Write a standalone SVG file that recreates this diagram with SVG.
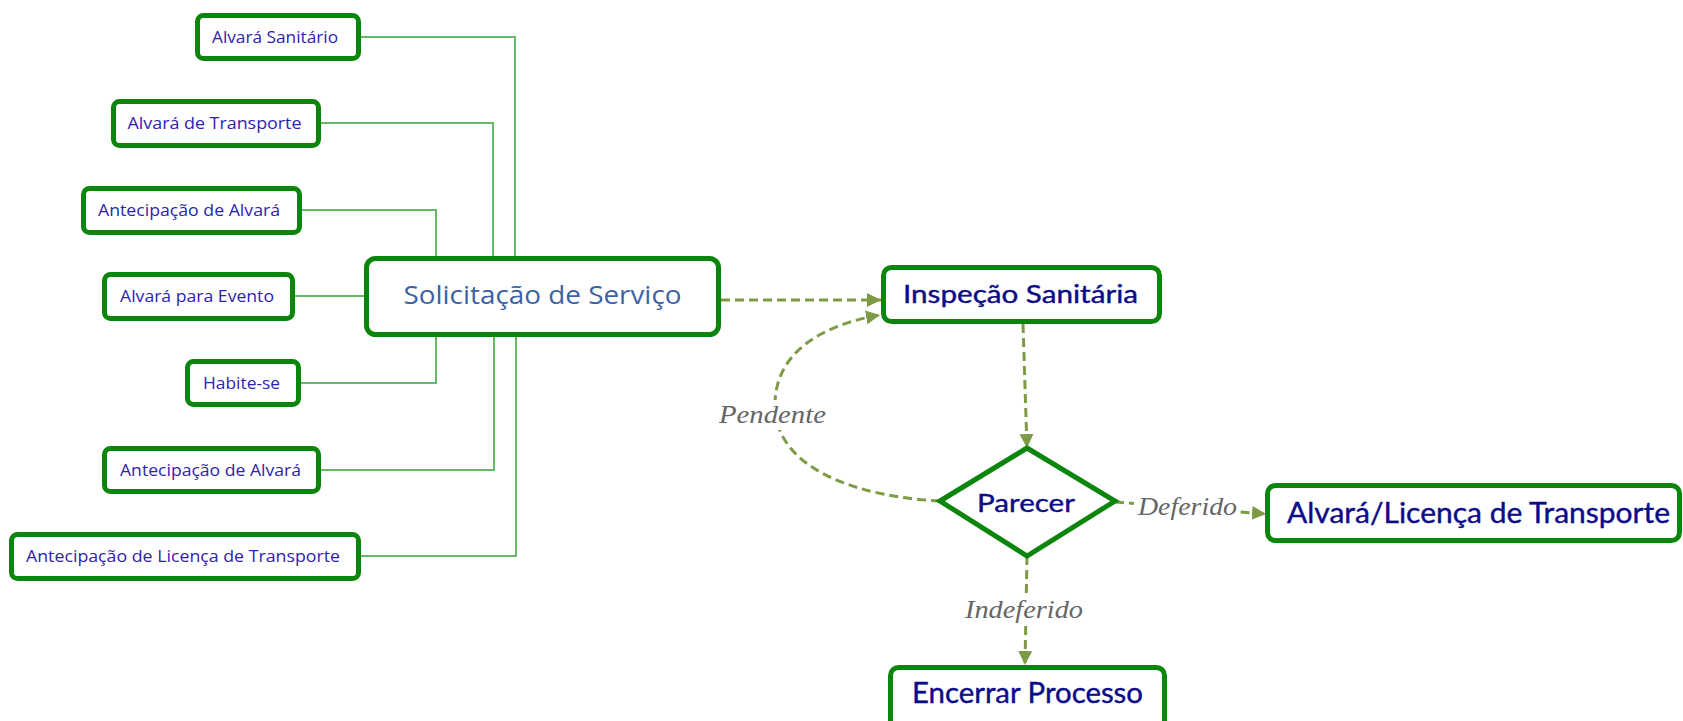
<svg xmlns="http://www.w3.org/2000/svg" width="1683" height="721" viewBox="0 0 1683 721">
<defs>
<style>
.box{fill:#fff;stroke:#0c850c;stroke-width:5}
.sm{font-family:"Open Sans","Noto Sans",sans-serif;font-size:16px;fill:#2e22b0;text-anchor:middle}
.big{font-family:Lato,"Open Sans",sans-serif;fill:#0c0c88;stroke:#0c0c88;stroke-width:0.4;text-anchor:middle}
.sol{font-family:"Open Sans","Noto Sans",sans-serif;font-size:25px;fill:#3d62a3;text-anchor:middle}
.ln{fill:none;stroke:#66b966;stroke-width:2}
.dash{fill:none;stroke:#7d9b45;stroke-width:3;stroke-dasharray:9 5}
.lbl{font-family:"Liberation Serif",serif;font-style:italic;font-size:25px;fill:#666;text-anchor:middle}
</style>
<marker id="arr" markerWidth="15" markerHeight="15" refX="14" refY="7" orient="auto" markerUnits="userSpaceOnUse">
<path d="M0,0 L14,7 L0,14 Z" fill="#7d9b45"/>
</marker>
</defs>
<rect width="1683" height="721" fill="#fff"/>

<g id="connectors">
<polyline class="ln" points="361,37 515,37 515,258"/>
<polyline class="ln" points="321,123 493,123 493,258"/>
<polyline class="ln" points="302,210 436,210 436,258"/>
<polyline class="ln" points="295,296 366,296"/>
<polyline class="ln" points="301,383 436,383 436,335"/>
<polyline class="ln" points="321,470 494,470 494,335"/>
<polyline class="ln" points="361,556 516,556 516,335"/>
<line class="dash" x1="721" y1="300" x2="881" y2="300" marker-end="url(#arr)"/>
<line class="dash" x1="1023" y1="324" x2="1027" y2="448" marker-end="url(#arr)"/>
<path class="dash" d="M940,501 C860,497 775,470 775,405 C775,352 822,325 880,315" marker-end="url(#arr)"/>
<line class="dash" x1="1115" y1="502" x2="1266" y2="514" marker-end="url(#arr)"/>
<line class="dash" x1="1027" y1="556" x2="1025" y2="665" marker-end="url(#arr)"/>
<rect x="716" y="400" width="114" height="30" fill="#fff"/>
<text class="lbl" x="772.5" y="423" textLength="107" lengthAdjust="spacingAndGlyphs">Pendente</text>
<rect x="1134" y="494" width="106" height="28" fill="#fff"/>
<text class="lbl" x="1187.5" y="515" textLength="99" lengthAdjust="spacingAndGlyphs">Deferido</text>
<rect x="961" y="596" width="126" height="30" fill="#fff"/>
<text class="lbl" x="1024" y="618" textLength="118" lengthAdjust="spacingAndGlyphs">Indeferido</text>
</g>

<g id="n-alvara-sanitario">
<rect class="box" x="197.5" y="15.5" width="161" height="43" rx="6"/>
<text class="sm" x="275" y="42.5" textLength="126" lengthAdjust="spacingAndGlyphs">Alvará Sanitário</text>
</g>
<g id="n-alvara-transporte">
<rect class="box" x="113.5" y="101.5" width="205" height="44" rx="6"/>
<text class="sm" x="214.5" y="129" textLength="174" lengthAdjust="spacingAndGlyphs">Alvará de Transporte</text>
</g>
<g id="n-antecipacao-alvara-1">
<rect class="box" x="83.5" y="188.5" width="216" height="44" rx="6"/>
<text class="sm" x="189" y="216" textLength="182" lengthAdjust="spacingAndGlyphs">Antecipação de Alvará</text>
</g>
<g id="n-alvara-evento">
<rect class="box" x="104.5" y="274.5" width="188" height="44" rx="6"/>
<text class="sm" x="197" y="302" textLength="154" lengthAdjust="spacingAndGlyphs">Alvará para Evento</text>
</g>
<g id="n-habite-se">
<rect class="box" x="187.5" y="361.5" width="111" height="43" rx="6"/>
<text class="sm" x="241.5" y="388.5" textLength="77" lengthAdjust="spacingAndGlyphs">Habite-se</text>
</g>
<g id="n-antecipacao-alvara-2">
<rect class="box" x="104.5" y="448.5" width="214" height="43" rx="6"/>
<text class="sm" x="210.5" y="475.5" textLength="181" lengthAdjust="spacingAndGlyphs">Antecipação de Alvará</text>
</g>
<g id="n-antecipacao-licenca">
<rect class="box" x="11.5" y="534.5" width="347" height="44" rx="6"/>
<text class="sm" x="183" y="562" textLength="314" lengthAdjust="spacingAndGlyphs">Antecipação de Licença de Transporte</text>
</g>
<g id="n-solicitacao">
<rect class="box" x="366.5" y="258.5" width="352" height="76" rx="9"/>
<text class="sol" x="542.5" y="304" textLength="278" lengthAdjust="spacingAndGlyphs">Solicitação de Serviço</text>
</g>
<g id="n-inspecao">
<rect class="box" x="883.5" y="267.5" width="276" height="54" rx="8"/>
<text class="big" x="1020.5" y="303" font-size="25" textLength="235" lengthAdjust="spacingAndGlyphs">Inspeção Sanitária</text>
</g>
<g id="n-parecer">
<polygon points="940,501 1027,448 1115,501 1027,556" fill="#fff" stroke="#0c850c" stroke-width="5"/>
<text class="big" x="1026" y="512" font-size="25" textLength="98" lengthAdjust="spacingAndGlyphs">Parecer</text>
</g>
<g id="n-alvara-licenca">
<rect class="box" x="1267.5" y="485.5" width="412" height="55" rx="8"/>
<text class="big" x="1478.5" y="523" font-size="29" textLength="383" lengthAdjust="spacingAndGlyphs">Alvará/Licença de Transporte</text>
</g>
<g id="n-encerrar">
<rect class="box" x="890.5" y="667.5" width="274" height="62" rx="8"/>
<text class="big" x="1027.5" y="703" font-size="28" textLength="231" lengthAdjust="spacingAndGlyphs">Encerrar Processo</text>
</g>
</svg>
